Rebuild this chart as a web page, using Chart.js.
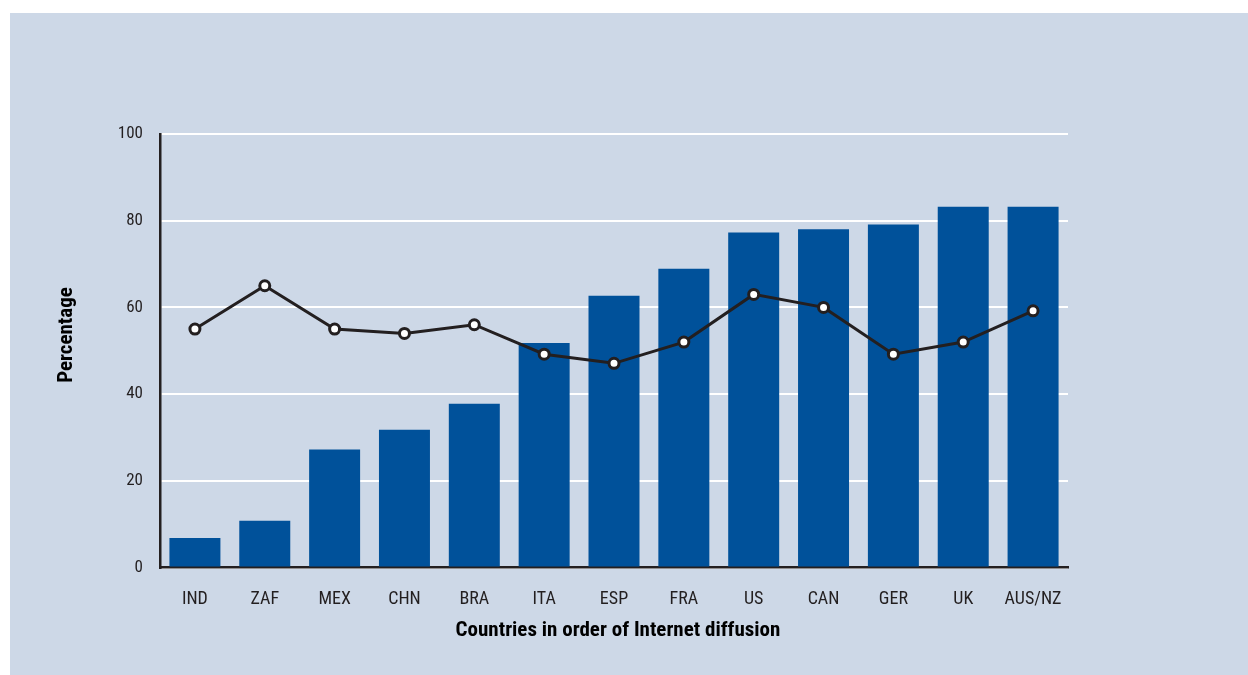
<!DOCTYPE html>
<html>
<head>
<meta charset="utf-8">
<script src="https://cdn.jsdelivr.net/npm/chart.js@4/dist/chart.umd.min.js"></script>
<style>
html,body{margin:0;padding:0;background:#ffffff;}
#wrap{position:absolute;left:0;top:0;width:1248px;height:675px;}
</style>
</head>
<body>
<div id="wrap"><canvas id="c" width="1248" height="675"></canvas></div>
<script>
const categories = ["IND","ZAF","MEX","CHN","BRA","ITA","ESP","FRA","US","CAN","GER","UK","AUS/NZ"];
const diffusion = [6.8, 10.8, 27.2, 31.8, 37.8, 51.8, 62.7, 68.9, 77.3, 78.0, 79.1, 83.2, 83.2];
const lineValues = [55, 65, 55, 54, 56, 49.2, 47.1, 52, 63, 60, 49.2, 52, 59.2];
const yTicks = [0, 20, 40, 60, 80, 100];
const xTitle = "Countries in order of Internet diffusion";
const yTitle = "Percentage";

const FONT = "'Liberation Sans Narrow', 'Roboto Condensed', 'Liberation Sans', sans-serif";
const DARK = "#231f20";
const BG = "#cdd8e7";
const BAR = "#00519a";

const bgPlugin = {
  id: 'bg',
  beforeDraw(chart) {
    const ctx = chart.ctx;
    ctx.save();
    ctx.fillStyle = '#ffffff';
    ctx.fillRect(0, 0, chart.width, chart.height);
    ctx.fillStyle = BG;
    ctx.fillRect(10, 13, chart.width - 10, chart.height - 13);
    ctx.restore();
  },
  afterDraw(chart) {
    const ctx = chart.ctx;
    ctx.save();
    ctx.fillStyle = "#000";
    ctx.font = "bold 21px " + FONT;
    ctx.textAlign = "center";
    ctx.textBaseline = "middle";
    ctx.fillText(xTitle, 618, 631);
    ctx.translate(67, 335);
    ctx.rotate(-Math.PI / 2);
    ctx.fillText(yTitle, 0, 0);
    ctx.restore();
  }
};

new Chart(document.getElementById('c'), {
  data: {
    labels: categories,
    datasets: [
      {
        type: 'line',
        data: lineValues,
        borderColor: DARK,
        borderWidth: 3,
        pointRadius: 5,
        pointBorderWidth: 3,
        pointBackgroundColor: '#ffffff',
        pointBorderColor: DARK,
        tension: 0,
        order: 0
      },
      {
        type: 'bar',
        data: diffusion,
        backgroundColor: BAR,
        borderWidth: 0,
        barPercentage: 0.73,
        categoryPercentage: 1.0,
        order: 1
      }
    ]
  },
  plugins: [bgPlugin],
  options: {
    responsive: false,
    animation: false,
    devicePixelRatio: 1,
    layout: { padding: { left: 0, right: 180, top: 134, bottom: 0 } },
    plugins: { legend: { display: false }, tooltip: { enabled: false } },
    scales: {
      x: {
        grid: { display: false, drawTicks: false },
        border: { display: true, color: DARK, width: 2.5 },
        ticks: { color: DARK, font: { family: FONT, size: 18 }, padding: 21, maxRotation: 0, autoSkip: false },
        afterFit(s) { s.height = 107.5; }
      },
      y: {
        min: 0, max: 100,
        afterBuildTicks(s) { s.ticks = yTicks.map(v => ({ value: v })); },
        grid: { color: '#ffffff', lineWidth: 2, drawTicks: false },
        border: { display: true, color: DARK, width: 2.5 },
        ticks: { color: DARK, font: { family: FONT, size: 17 }, padding: 17 },
        afterFit(s) { s.width = 160; }
      }
    }
  }
});
</script>
</body>
</html>
